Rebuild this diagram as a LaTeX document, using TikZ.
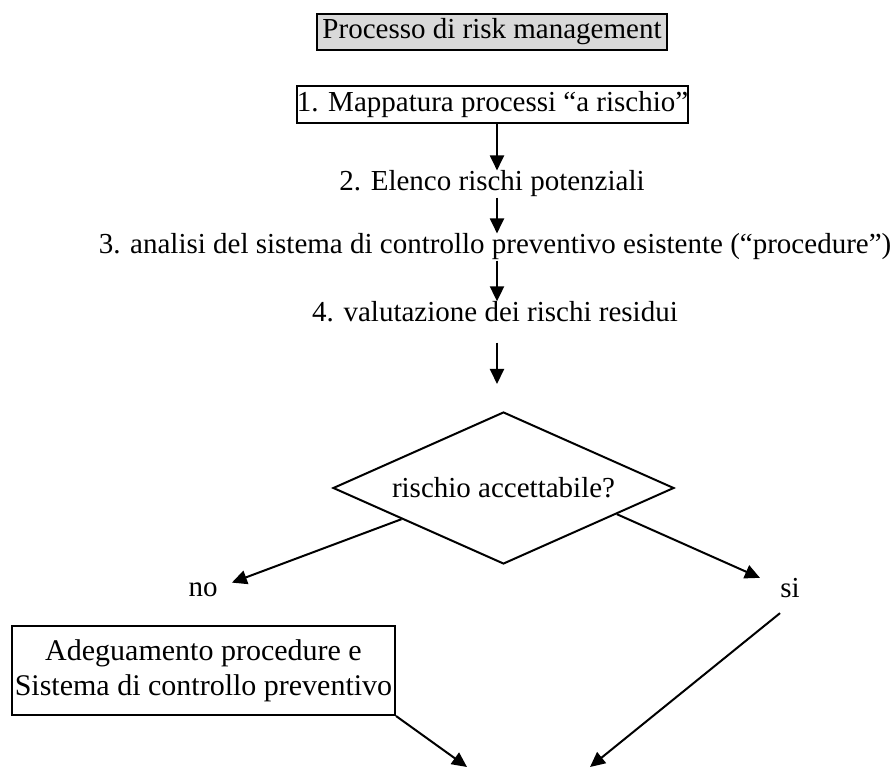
\documentclass[tikz,border=0pt]{standalone}
\usepackage{fontspec}
\setmainfont{Liberation Serif}
\usepackage{xcolor}
\usetikzlibrary{arrows.meta,positioning,shapes.geometric}
\definecolor{riskgray}{RGB}{217,217,217}
\tikzset{
  riskbox/.style={
    rectangle,
    draw=black,
    line width=1pt,
    align=center,
    inner sep=0pt,
    font=\fontsize{14.5}{17.5}\selectfont
  },
  risktext/.style={
    inner sep=0pt,
    align=center,
    font=\fontsize{14.5}{17.5}\selectfont
  },
  riskdecision/.style={
    diamond,
    aspect=2.24,
    draw=black,
    line width=1pt,
    inner sep=0pt,
    minimum width=170.5pt,
    minimum height=76pt,
    font=\fontsize{14.5}{17.5}\selectfont
  },
  riskarrow/.style={
    -{Triangle[length=7.5pt,width=7pt]},
    line width=1pt,
    draw=black
  }
}

\begin{document}
\begin{tikzpicture}[x=0.5pt,y=-0.5pt]
\useasboundingbox (0,0) rectangle (893,769);
\node[riskbox, fill=riskgray, minimum width=175pt, minimum height=18pt] (title) at (492,32) {Processo di risk management};
\node[riskbox, minimum width=195.5pt, minimum height=18.5pt] (mappa) at (492.5,104.5) {1. Mappatura processi “a rischio”};
\node[risktext] (elenco) at (492,184) {2. Elenco rischi potenziali};
\node[risktext] (analisi) at (495,247) {3. analisi del sistema di controllo preventivo esistente (“procedure”)};
\node[risktext] (valuta) at (495,312) {4. valutazione dei rischi residui};
\node[riskdecision] (accetta) at (503.5,488) {rischio accettabile?};
\node[risktext] (no) at (203,590) {no};
\node[risktext] (si) at (790,588) {si};
\node[riskbox, minimum width=191.5pt, minimum height=44.5pt, font=\fontsize{15}{17.5}\selectfont] (adegua) at (203.5,670.5) {Adeguamento procedure e\\Sistema di controllo preventivo};

\coordinate (axis) at (497,0);
\coordinate (endl) at (467,767);
\coordinate (endr) at (590,767);

\draw[riskarrow] (mappa.south -| axis) -- (elenco.north -| axis);
\draw[riskarrow] (elenco.south -| axis) -- (analisi.north -| axis);
\draw[riskarrow] (analisi.south -| axis) -- (valuta.north -| axis);
\draw[riskarrow, shorten <=10pt, shorten >=13.5pt] (valuta.south -| axis) -- (accetta.north -| axis);
\draw[riskarrow] (accetta.197) -- ([xshift=7pt]no.north east);
\draw[riskarrow] (accetta.-13) -- ([xshift=-10pt]si.north west);
\draw[riskarrow] (adegua.south east) -- (endl);
\draw[riskarrow] ([shift={(-10,15)}]si.south) -- (endr);
\end{tikzpicture}
\end{document}
